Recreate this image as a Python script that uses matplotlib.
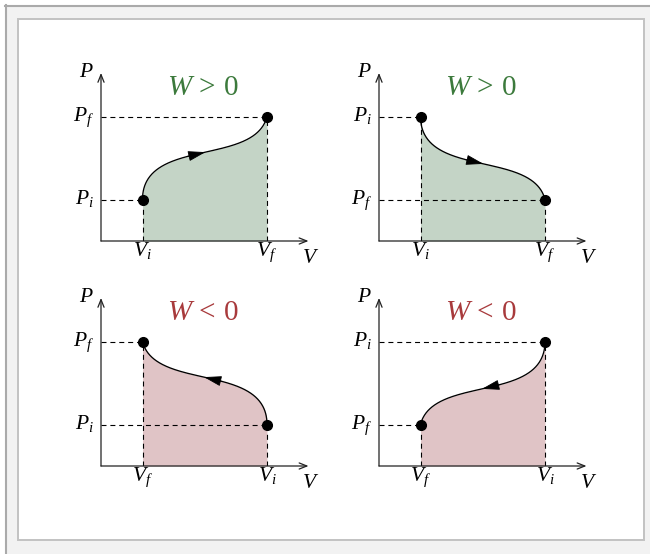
import numpy as np
import matplotlib
matplotlib.use("Agg")
import matplotlib.pyplot as plt
from matplotlib.patches import Rectangle, FancyArrowPatch
from matplotlib.lines import Line2D

plt.rcParams['mathtext.fontset'] = 'custom'
plt.rcParams['mathtext.rm'] = 'Liberation Serif'
plt.rcParams['mathtext.it'] = 'Liberation Serif:italic'
plt.rcParams['mathtext.bf'] = 'Liberation Serif:bold'
plt.rcParams['font.family'] = ['Liberation Serif', 'DejaVu Serif']

# ---- data (one entry per panel: TL, TR, BL, BR) ----
V_i = [1, 1, 4, 4]
V_f = [4, 4, 1, 1]
P_i = [1, 3, 1, 3]
P_f = [3, 1, 3, 1]
titles = ['$W\\,>\\,0$', '$W\\,>\\,0$', '$W\\,<\\,0$', '$W\\,<\\,0$']
signs = ['pos', 'pos', 'neg', 'neg']
# process-curve shape (normalised Bezier control points, from (Vi,Pi) to (Vf,Pf))
ctrl_u = [0.0, 0.0, 0.9, 1.0]
ctrl_w = [0.0, 0.75, 0.40, 1.0]

# ---- styles ----
W, H = 650, 554
text_col = {'pos': '#3c7a3c', 'neg': '#a83a3c'}
fill_col = {'pos': '#c4d4c6', 'neg': '#e0c4c6'}
origins = [(101, 241), (379, 241), (101, 466), (379, 466)]
PX = 41.5  # pixels per unit
XMAX, YMAX = 5.0, 4.05

fig = plt.figure(figsize=(W / 100, H / 100), dpi=100)
fig.patch.set_facecolor('white')

def fx(x):
    return x / W

def fy(y):
    return 1 - y / H

# frame decoration
fig.add_artist(Rectangle((fx(5), fy(H + 5)), fx(W), (H - 5 + 5) / H,
                         transform=fig.transFigure, facecolor='#f2f2f2',
                         edgecolor='none', zorder=-10))
fig.add_artist(Line2D([fx(5), fx(W)], [fy(6), fy(6)], transform=fig.transFigure,
                      color='#aaaaaa', lw=1.5, zorder=-9))
fig.add_artist(Line2D([fx(6), fx(6)], [fy(5), fy(H)], transform=fig.transFigure,
                      color='#aaaaaa', lw=1.5, zorder=-9))
fig.add_artist(Rectangle((fx(18), fy(540)), fx(644 - 18), (540 - 19) / H,
                         transform=fig.transFigure, facecolor='white',
                         edgecolor='#c2c2c2', lw=1.4, zorder=-8))


def bezier(t, p0, p1, p2, p3):
    return ((1 - t) ** 3 * p0 + 3 * t * (1 - t) ** 2 * p1
            + 3 * t ** 2 * (1 - t) * p2 + t ** 3 * p3)


for k in range(4):
    ox, oy = origins[k]
    xlim = (0, 5.2)
    ylim = (0, 4.2)
    ax = fig.add_axes([fx(ox), fy(oy), xlim[1] * PX / W, ylim[1] * PX / H])
    ax.set_xlim(*xlim)
    ax.set_ylim(*ylim)
    ax.axis('off')
    ax.patch.set_alpha(0)

    vi, vf, pi, pf = V_i[k], V_f[k], P_i[k], P_f[k]
    t = np.linspace(0, 1, 300)
    u = bezier(t, *ctrl_u)
    w = bezier(t, *ctrl_w)
    V = vi + u * (vf - vi)
    P = pi + w * (pf - pi)

    order = np.argsort(V)
    ax.fill_between(V[order], 0, P[order], color=fill_col[signs[k]], lw=0, zorder=1)
    ax.plot(V, P, color='black', lw=0.95, zorder=3)

    # direction arrow on the curve
    ta, tb = 0.43, 0.53
    pa = (vi + bezier(ta, *ctrl_u) * (vf - vi), pi + bezier(ta, *ctrl_w) * (pf - pi))
    pb = (vi + bezier(tb, *ctrl_u) * (vf - vi), pi + bezier(tb, *ctrl_w) * (pf - pi))
    ax.add_patch(FancyArrowPatch(pa, pb, arrowstyle='-|>,head_length=1.1,head_width=0.32',
                                 mutation_scale=10, color='black', lw=0.6,
                                 shrinkA=0, shrinkB=0, zorder=4))

    # dashed guides
    dash = dict(color='black', lw=0.8, ls=(0, (4.5, 3.5)), zorder=2)
    for vv, pp in ((vi, pi), (vf, pf)):
        ax.plot([0, vv], [pp, pp], **dash)
        ax.plot([vv, vv], [0, pp], **dash)

    # state points
    ax.plot([vi, vf], [pi, pf], 'o', color='black', ms=7, zorder=5, clip_on=False)

    # axes with arrows
    ax.annotate('', xy=(XMAX, 0), xytext=(0, 0),
                arrowprops=dict(arrowstyle='->,head_length=0.55,head_width=0.22',
                                lw=0.9, color='#222222', shrinkA=0, shrinkB=0),
                zorder=6, annotation_clip=False)
    ax.annotate('', xy=(0, YMAX), xytext=(0, 0),
                arrowprops=dict(arrowstyle='->,head_length=0.55,head_width=0.22',
                                lw=0.9, color='#222222', shrinkA=0, shrinkB=0),
                zorder=6, annotation_clip=False)

    fs = 15.5
    ax.text(-0.18, 3.96, '$P$', ha='right', va='baseline', fontsize=fs, clip_on=False)
    ax.text(XMAX + 0.05, -0.54, '$V$', ha='center', va='baseline', fontsize=fs, clip_on=False)
    ax.text(-0.17, pi - 0.1, '$P_i$', ha='right', va='baseline', fontsize=fs, clip_on=False)
    ax.text(-0.17, pf - 0.1, '$P_f$', ha='right', va='baseline', fontsize=fs, clip_on=False)
    ax.text(vi, -0.37, '$V_i$', ha='center', va='baseline', fontsize=fs, clip_on=False)
    ax.text(vf, -0.37, '$V_f$', ha='center', va='baseline', fontsize=fs, clip_on=False)
    ax.text(2.46, 3.52, titles[k], ha='center', va='baseline', fontsize=21,
            color=text_col[signs[k]], clip_on=False)

fig.savefig('out.png', dpi=100, facecolor=fig.get_facecolor())
